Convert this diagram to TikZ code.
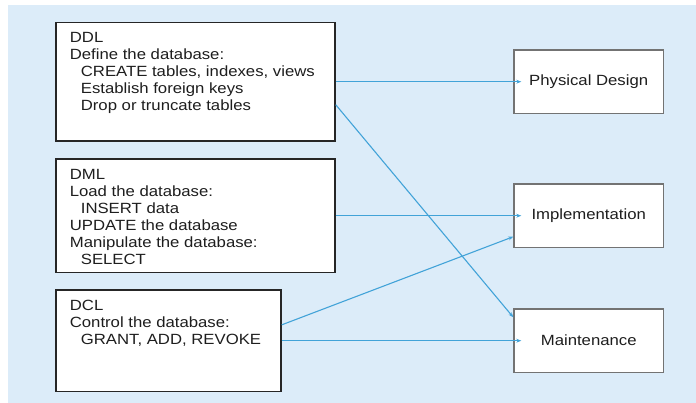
\documentclass[tikz,border=0pt]{standalone}
\usepackage{fontspec}
\setmainfont{Liberation Sans}[FakeStretch=1.13]
\usetikzlibrary{arrows.meta}
\definecolor{bgblue}{RGB}{220,236,249}
\definecolor{arrowblue}{RGB}{66,163,216}
\definecolor{txtgray}{RGB}{30,30,30}
\definecolor{rgray}{RGB}{115,115,115}
\newcommand{\lefttext}[3]{\parbox[c][#2][t]{#1}{\fontsize{14.8}{17}\selectfont\leftskip=14pt\parindent=0pt\rule{0pt}{20pt}#3}}
\tikzset{
  lbox/.style={draw=black!85, line width=1.7pt, fill=white, inner sep=0pt, anchor=north west, text=txtgray},
  rbox/.style={draw=rgray, line width=1.4pt, fill=white, inner sep=0pt, anchor=north west,
     minimum width=149.4pt, minimum height=63.4pt, text=txtgray, font=\fontsize{14.8}{17}\selectfont},
  link/.style={draw=arrowblue, line width=1.1pt, -{Stealth[length=5pt,width=3.8pt]}}
}
\begin{document}
\begin{tikzpicture}[x=1pt,y=-1pt]
\useasboundingbox (0,0) rectangle (696,402);
\fill[bgblue] (8,5) rectangle (697,403);
% left boxes
\node[lbox] (ddl) at (55,21.7) {\lefttext{279pt}{118.3pt}{DDL\\Define the database:\\\hspace*{11pt}CREATE tables, indexes, views\\\hspace*{11pt}Establish foreign keys\\\hspace*{11pt}Drop or truncate tables}};
\node[lbox] (dml) at (55,158.3) {\lefttext{279pt}{113.4pt}{DML\\Load the database:\\\hspace*{11pt}INSERT data\\UPDATE the database\\Manipulate the database:\\\hspace*{11pt}SELECT}};
\node[lbox] (dcl) at (55,289.3) {\lefttext{225pt}{101.4pt}{DCL\\Control the database:\\\hspace*{11pt}GRANT, ADD, REVOKE}};
% right boxes
\node[rbox] (phys) at (513.3,49.3) {Physical Design};
\node[rbox] (impl) at (513.3,183.3) {Implementation};
\node[rbox] (maint) at (513.3,308.3) {Maintenance};
% connectors
\draw[link] (ddl.east |- phys.west) -- ([xshift=8pt]phys.west);
\draw[link] ([yshift=-23pt]ddl.east) -- ([yshift=-9pt]maint.north west);
\draw[link] (dml.east |- impl.west) -- ([xshift=8pt]impl.west);
\draw[link] ([yshift=16pt]dcl.east) -- ([yshift=-21pt]impl.west);
\draw[link] (dcl.east |- maint.west) -- ([xshift=8pt]maint.west);
\end{tikzpicture}
\end{document}
